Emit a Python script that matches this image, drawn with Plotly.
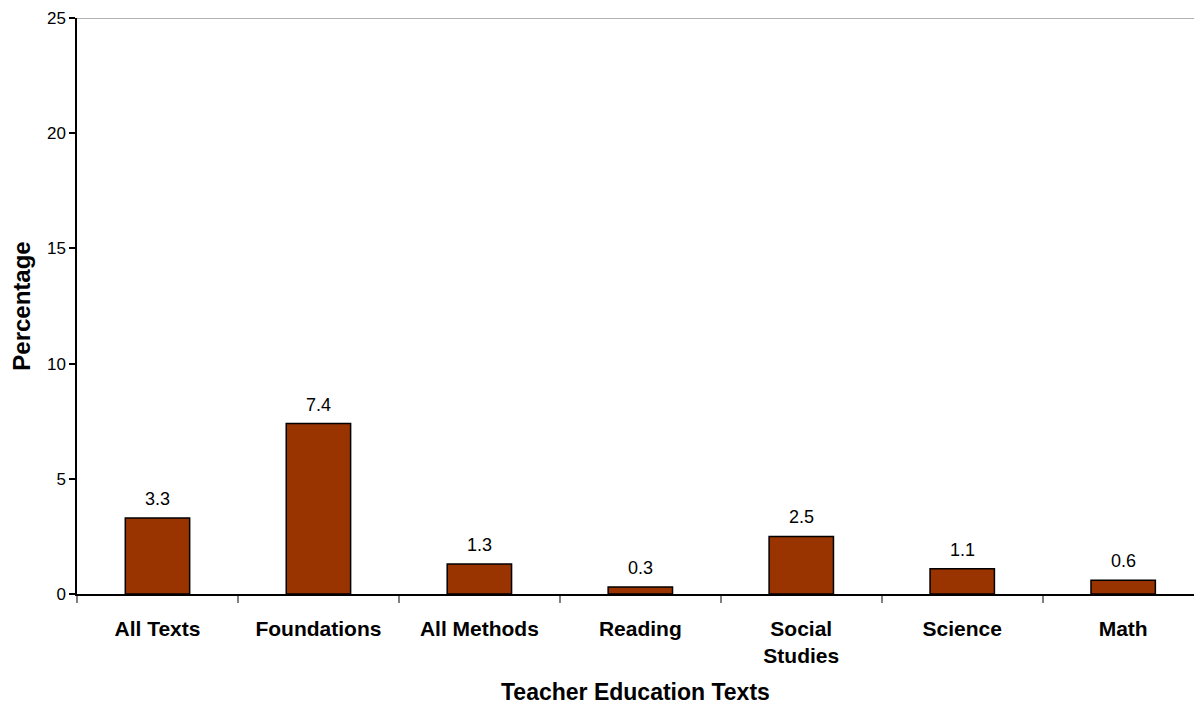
import plotly.graph_objects as go

categories = ["All Texts", "Foundations", "All Methods", "Reading", "Social<br>Studies", "Science", "Math"]
values = [3.3, 7.4, 1.3, 0.3, 2.5, 1.1, 0.6]
labels = ["3.3", "7.4", "1.3", "0.3", "2.5", "1.1", "0.6"]
y_ticks = [0, 5, 10, 15, 20, 25]
x_title = "Teacher Education Texts"
y_title = "Percentage"

FONT = "Liberation Sans, Arial, sans-serif"

fig = go.Figure()
fig.add_trace(go.Bar(
    x=categories, y=values,
    marker=dict(color="#993300", line=dict(color="#000000", width=1.5)),
    width=0.4,
    hoverinfo="skip",
))

for c, v, t in zip(categories, values, labels):
    fig.add_annotation(x=c, y=v, text=t, showarrow=False, yanchor="bottom",
                       yshift=7, font=dict(family=FONT, size=18, color="#000"))

# x-axis title placed under the tick labels
fig.add_annotation(xref="paper", yref="paper", x=0.5, y=0, yanchor="top",
                   yshift=-84, text="<b>" + x_title + "</b>", showarrow=False,
                   borderpad=0,
                   font=dict(family=FONT, size=23, color="#000"))

fig.add_shape(type="line", xref="paper", yref="y", x0=0, x1=1, y0=25, y1=25,
              line=dict(color="#999999", width=1.5))

fig.update_layout(
    width=1194, height=706,
    margin=dict(l=77, r=0, t=18, b=112),
    paper_bgcolor="white", plot_bgcolor="white",
    showlegend=False,
    font=dict(family=FONT, color="#000"),
    xaxis=dict(
        type="category",
        range=[-0.5, 6.44],
        tickson="boundaries",
        automargin=False,
        ticks="outside", ticklen=7, tickcolor="#808080", tickwidth=1.5,
        ticklabelstandoff=15,
        showline=True, linecolor="#000", linewidth=1.5,
        showgrid=False,
        tickfont=dict(family=FONT, size=21, color="#000", weight="bold"),
    ),
    yaxis=dict(
        range=[0, 25],
        tickvals=y_ticks,
        automargin=False,
        ticks="outside", ticklen=6, tickcolor="#000", tickwidth=1.5,
        showline=True, linecolor="#000", linewidth=1.5,
        showgrid=False, zeroline=False,
        tickfont=dict(family=FONT, size=17, color="#000"),
        title=dict(text="<b>" + y_title + "</b>", font=dict(family=FONT, size=24), standoff=10),
    ),
)

fig.write_html("out.html")
